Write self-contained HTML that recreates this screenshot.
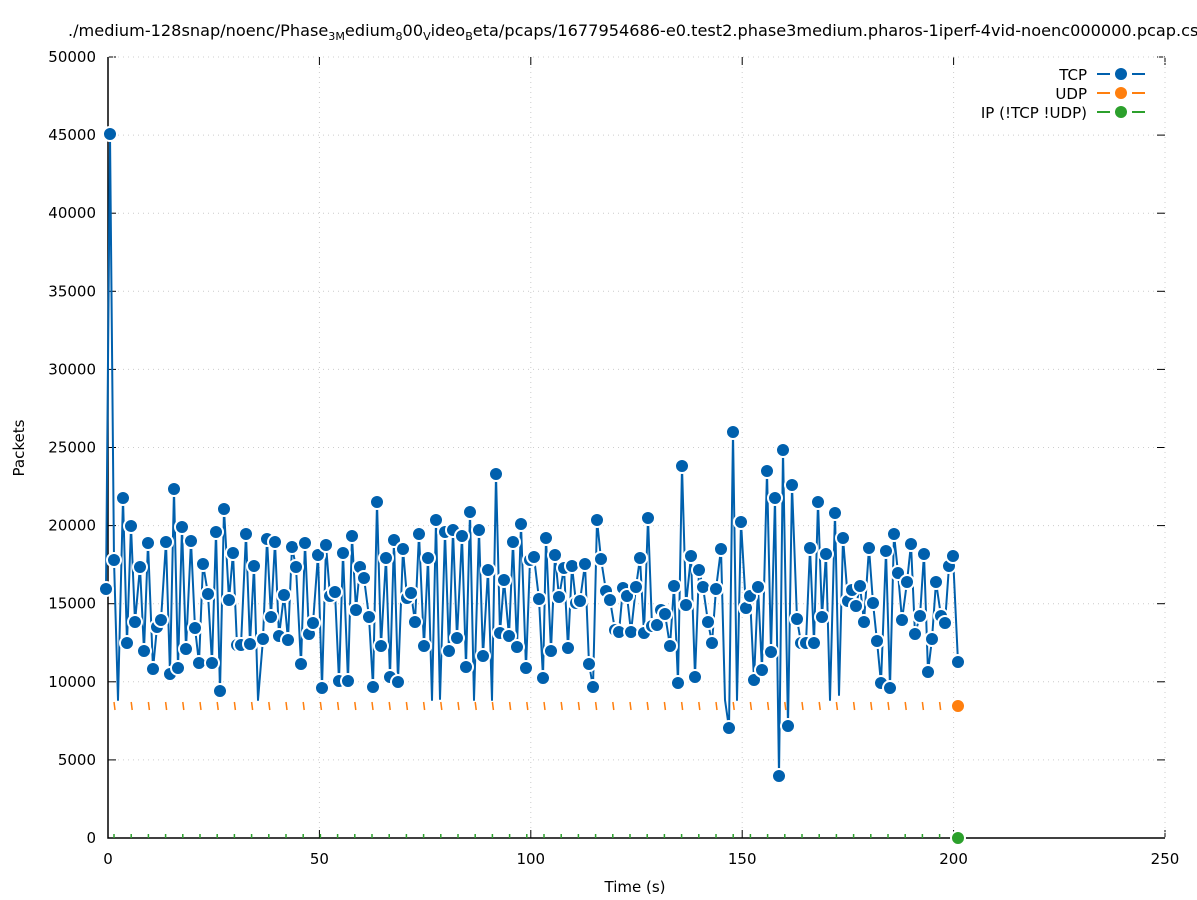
<!DOCTYPE html>
<html><head><meta charset="utf-8"><style>
body{margin:0;background:#fff;width:1197px;height:900px;overflow:hidden}
svg{display:block;font-family:"DejaVu Sans","Liberation Sans",sans-serif}
</style></head><body>
<svg id="s" width="1197" height="900" xmlns="http://www.w3.org/2000/svg">
<text x="68" y="36" font-size="16" fill="#000" textLength="1140" lengthAdjust="spacingAndGlyphs">./medium-128snap/noenc/Phase<tspan font-size="11" dy="4">3M</tspan><tspan dy="-4">edium</tspan><tspan font-size="11" dy="4">8</tspan><tspan dy="-4">00</tspan><tspan font-size="11" dy="4">V</tspan><tspan dy="-4">ideo</tspan><tspan font-size="11" dy="4">B</tspan><tspan dy="-4">eta/pcaps/1677954686-e0.test2.phase3medium.pharos-1iperf-4vid-noenc000000.pcap.csv</tspan></text>
<g id="grid"></g>
<g id="data"></g>
<text x="635" y="892" font-size="15" text-anchor="middle">Time (s)</text>
<text transform="translate(24,448) rotate(-90)" font-size="15" text-anchor="middle">Packets</text>
<g font-size="15" text-anchor="end">
<text x="1087" y="80">TCP</text><text x="1087" y="99">UDP</text><text x="1087" y="118">IP (!TCP  !UDP)</text>
</g>
<g stroke-width="2">
<line x1="1097" x2="1110" y1="74" y2="74" stroke="#0060ad"/><line x1="1132" x2="1145" y1="74" y2="74" stroke="#0060ad"/><circle cx="1121" cy="74" r="6" fill="#0060ad"/>
<line x1="1097" x2="1110" y1="93" y2="93" stroke="#ff7f0e"/><line x1="1132" x2="1145" y1="93" y2="93" stroke="#ff7f0e"/><circle cx="1121" cy="93" r="6" fill="#ff7f0e"/>
<line x1="1097" x2="1110" y1="112" y2="112" stroke="#2ca02c"/><line x1="1132" x2="1145" y1="112" y2="112" stroke="#2ca02c"/><circle cx="1121" cy="112" r="6" fill="#2ca02c"/>
</g>
</svg>
<script>
var NS="http://www.w3.org/2000/svg";
function el(p,t,a,txt){var e=document.createElementNS(NS,t);for(var k in a)e.setAttribute(k,a[k]);if(txt!=null)e.textContent=txt;p.appendChild(e);return e;}
var g=document.getElementById('grid'),d=document.getElementById('data');
var X0=108,X1=1165,Y0=838,Y1=57;
for(var i=0;i<=10;i++){var y=Y0-(Y0-Y1)*i/10;
 if(i>0)el(g,'line',{x1:X0,x2:X1,y1:y,y2:y,stroke:'#ccc','stroke-dasharray':'1,4'});
 el(g,'line',{x1:X0,x2:X0+8,y1:y,y2:y,stroke:'#000'});el(g,'line',{x1:X1,x2:X1-8,y1:y,y2:y,stroke:'#000'});
 el(g,'text',{x:96,y:y+5,'font-size':15,'text-anchor':'end'},String(i*5000));}
for(var i=0;i<=5;i++){var x=X0+(X1-X0)*i/5;
 if(i>0)el(g,'line',{x1:x,x2:x,y1:Y0,y2:Y1,stroke:'#ccc','stroke-dasharray':'1,4'});
 el(g,'line',{x1:x,x2:x,y1:Y0,y2:Y0-8,stroke:'#000'});el(g,'line',{x1:x,x2:x,y1:Y1,y2:Y1+8,stroke:'#000'});
 el(g,'text',{x:x,y:864,'font-size':15,'text-anchor':'middle'},String(i*50));}
el(g,'line',{x1:X0,x2:X1,y1:Y1,y2:Y1,stroke:'#ccc','stroke-dasharray':'1,4'});
el(g,'line',{x1:X1,x2:X1,y1:Y0,y2:Y1,stroke:'#ccc','stroke-dasharray':'1,4'});
el(g,'polyline',{points:X0+','+Y1+' '+X0+','+Y0+' '+X1+','+Y0,fill:'none',stroke:'#000','stroke-width':1.5});
for(var x=114;x<952;x+=17.2){
 el(d,'line',{x1:x,x2:x+1,y1:702,y2:710,stroke:'#ff7f0e','stroke-width':1.5});
 el(d,'line',{x1:x,x2:x,y1:834,y2:838,stroke:'#2ca02c','stroke-width':1.5});}
var P=[106,589,110,134,114,560,118,700,123,498,127,643,131,526,135,622,140,567,144,651,148,543,153,669,157,627,161,620,166,542,170,674,174,489,178,668,182,527,186,649,191,541,195,628,199,663,203,564,208,594,212,663,216,532,220,691,224,509,229,600,233,553,237,645,241,645,246,534,250,644,254,566,258,700,263,639,267,539,271,617,275,542,279,636,284,595,288,640,292,547,296,567,301,664,305,543,309,634,313,623,318,555,322,688,326,545,330,596,335,592,339,681,343,553,348,681,352,536,356,610,360,567,364,578,369,617,373,687,377,502,381,646,386,558,390,677,394,540,398,682,403,549,407,598,411,593,415,622,419,534,424,646,428,558,432,700,436,520,440,699,445,532,449,651,453,530,457,638,462,536,466,667,470,512,474,700,479,530,483,656,488,570,492,700,496,474,500,633,504,580,509,636,513,542,517,647,521,524,526,668,530,560,534,557,539,599,543,678,546,538,551,651,555,555,559,597,564,568,568,648,572,566,576,603,580,601,585,564,589,664,593,687,597,520,601,559,606,591,610,600,615,630,619,632,623,588,627,596,631,632,636,587,640,558,644,633,648,518,652,626,657,625,661,610,665,614,670,646,674,586,678,683,682,466,686,605,691,556,695,677,699,570,703,587,708,622,712,643,716,589,721,549,725,700,729,728,733,432,737,700,741,522,746,608,750,596,754,680,758,587,762,670,767,471,771,652,775,498,779,776,783,450,788,726,792,485,797,619,801,643,806,643,810,548,814,643,818,502,822,617,826,554,830,700,835,513,839,695,843,538,848,601,852,590,856,606,860,586,864,622,869,548,873,603,877,641,881,683,886,551,890,688,894,534,898,573,902,620,907,582,911,544,915,634,920,616,924,554,928,672,932,639,936,582,941,616,945,623,949,566,953,556,958,662];
var pts=[];for(var i=0;i<P.length;i+=2)pts.push(P[i]+','+P[i+1]);
el(d,'polyline',{points:pts.join(' '),fill:'none',stroke:'#0060ad','stroke-width':2,'stroke-linejoin':'round'});
for(var i=0;i<P.length;i+=2){if(P[i+1]>=695&&P[i+1]<=700)continue;el(d,'circle',{cx:P[i],cy:P[i+1],r:7,fill:'#0060ad',stroke:'#fff','stroke-width':2});}
el(d,'circle',{cx:958,cy:706,r:7,fill:'#ff7f0e',stroke:'#fff','stroke-width':2});
el(d,'circle',{cx:958,cy:838,r:7,fill:'#2ca02c',stroke:'#fff','stroke-width':2});
</script>
</body></html>
